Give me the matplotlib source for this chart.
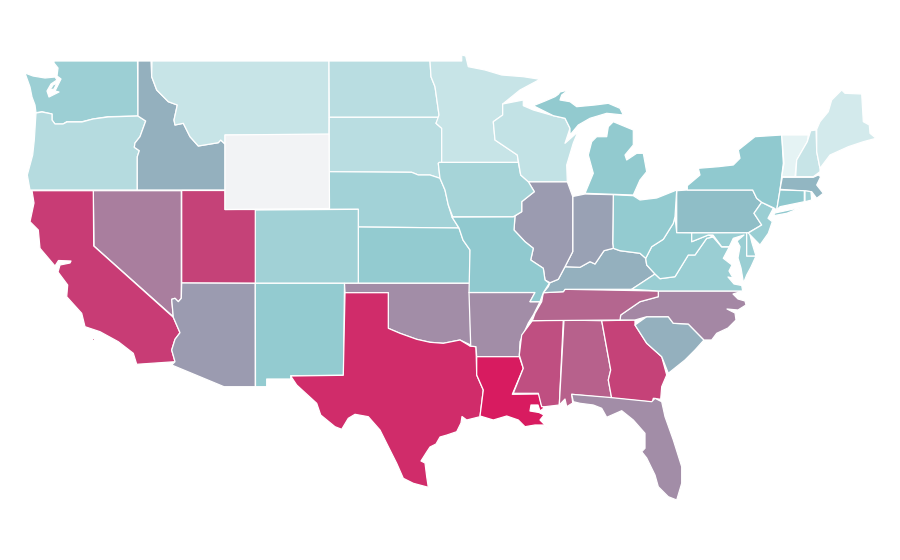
import numpy as np
import matplotlib
matplotlib.use('Agg')
import matplotlib.pyplot as plt
from matplotlib.collections import PolyCollection
from matplotlib.colors import LinearSegmentedColormap, Normalize

# Estimated value per state, WY has no data
state_values = {
    'WA': 33.5, 'OR': 23, 'ID': 48, 'MT': 15, 'WY': np.nan, 'ND': 21, 'SD': 21, 'NE': 30.5,
    'MN': 15, 'IA': 29, 'WI': 17, 'IL': 55, 'IN': 53, 'MI': 37.5, 'OH': 37, 'KY': 48,
    'TN': 73.5, 'NC': 62, 'SC': 48, 'GA': 86, 'AL': 75, 'MS': 81.5, 'LA': 100, 'AR': 60,
    'MO': 38.5, 'KS': 37, 'OK': 60, 'TX': 94, 'NM': 37, 'AZ': 55, 'NV': 65, 'UT': 86,
    'CO': 31, 'CA': 88, 'FL': 60, 'VA': 34, 'WV': 37, 'PA': 43, 'NY': 38.5, 'VT': 2,
    'NH': 15, 'ME': 10, 'MA': 46, 'CT': 39, 'RI': 32, 'NJ': 34, 'DE': 34, 'MD': 34,
}

outlines = {
    'WA': [[(54, 61), (137.5, 61), (138, 110), (138, 116), (108, 116.7), (93, 119), (82, 121.7), (66.7, 121.7),
            (63, 124), (55, 124), (52, 120), (52, 114), (42, 111.7), (36, 112.7), (35, 105), (32, 97), (30, 87),
            (25, 73), (33, 76), (45, 78), (55, 77), (57, 80), (51, 84), (47, 91), (49, 97), (59, 92), (55, 91),
            (61, 79), (57, 76), (58, 68), (54, 63)],
           [(50, 90), (53, 85), (57, 83), (54, 89)]],
    'OR': [[(36, 113), (42, 112), (52, 114), (52, 120), (55, 124), (63, 124), (67, 122), (82, 122), (93, 119),
            (108, 117), (138, 116), (145.7, 121), (140, 136.7), (135, 143), (134.3, 147.3), (139.3, 150.7),
            (137.3, 156.7), (137.3, 190), (30, 190), (27.3, 175), (32.7, 155), (34.3, 140)]],
    'ID': [[(138, 61), (151, 61), (151.7, 76.7), (156.7, 90), (168.3, 101.7), (177.3, 105), (174, 120), (175, 125),
            (183.3, 123.3), (190, 136.7), (198.3, 146), (218.3, 142.7), (220.7, 140), (225, 144), (225, 190),
            (137.3, 190), (137.3, 156.7), (139.3, 150.7), (134.3, 147.3), (135, 143), (140, 136.7), (145.7, 121),
            (138, 116), (138, 110)]],
    'MT': [[(152, 61), (329, 61), (329, 135), (225, 135), (225, 144), (220.7, 140), (218.3, 142.7), (198.3, 146),
            (190, 136.7), (183.3, 123.3), (175, 125), (174, 120), (177.3, 105), (168.3, 101.7), (156.7, 90),
            (151.7, 76.7)]],
    'ND': [[(329, 61), (430, 61), (431, 76.7), (435, 86.7), (439, 115), (439.3, 117.3), (329.3, 117.3)]],
    'SD': [[(329.3, 117.3), (439.3, 117.3), (436, 123.3), (441.7, 128.3), (441.7, 162.3), (438.3, 163.3),
            (440, 178.3), (430, 175), (418.3, 175), (411.7, 172.3), (329, 171.7)]],
    'NE': [[(329, 171.7), (411.7, 172.3), (418.3, 175), (430, 175), (440, 178.3), (445, 190), (448.3, 205),
            (452, 217), (459, 228), (358.3, 227), (358.3, 209.3), (329, 209.3)]],
    'KS': [[(358.3, 227), (459, 228), (463, 240), (470, 250), (470, 283.3), (358.3, 283.3)]],
    'CO': [[(255.3, 210), (358.3, 209.3), (358.3, 283.3), (255.3, 283.3)]],
    'UT': [[(181.7, 190.5), (225, 190.5), (225, 209.5), (255.3, 209.5), (255.3, 283.3), (181.7, 283)]],
    'NV': [[(93.3, 190.7), (181.3, 190.7), (181.3, 298.3), (178.3, 301.7), (175, 298.3), (171.7, 299.3),
            (173.3, 316.7), (94, 246)]],
    'CA': [[(32, 190.7), (93.3, 190.7), (93.7, 246), (173.3, 317.3), (180, 332.7), (175, 339.3), (171.7, 350),
            (175, 361.7), (136.7, 364.3), (133.3, 353.3), (118.3, 341.7), (100, 331.7), (85, 326.7), (81.7, 313.3),
            (66.7, 296.7), (67.7, 285), (58, 272), (60, 265), (70, 263), (71, 261), (58.5, 260.5), (55, 266),
            (40, 248.3), (38.3, 230), (30, 221.7), (34, 203)],
           [(92, 338), (94, 338), (94, 340), (92, 340)]],
    'AZ': [[(181.7, 283), (255.3, 283.3), (255.3, 386.7), (224, 386.7), (171.7, 365), (175, 361.7), (171.7, 350),
            (175, 339.3), (180, 332.7), (173.3, 317.3), (171.7, 299.3), (175, 298.3), (178.3, 301.7),
            (181.3, 298.3)]],
    'NM': [[(255.3, 283.3), (344.5, 283.3), (343.5, 375.3), (290.7, 375.7), (290.7, 379), (266.7, 379),
            (266.7, 386.7), (255.5, 386.7)]],
    'OK': [[(344.5, 283.3), (470, 283.3), (470.7, 345), (460, 340), (443.3, 343.3), (430, 342.3), (416.7, 339.3),
            (400, 333.3), (388.3, 328.3), (388.3, 292.7), (345, 292.7)]],
    'TX': [[(345, 292.7), (388.3, 292.7), (388.3, 328.3), (400, 333.3), (416.7, 339.3), (430, 342.3), (443.3, 343.3),
            (460, 340), (470, 346), (476, 346.7), (476.7, 375), (483.3, 390), (480, 416.7), (466.7, 420),
            (462, 416.5), (461, 423), (456.7, 431.7), (447, 435), (440, 437), (436, 444), (430, 447), (426.7, 452),
            (421, 461), (425, 463), (426.7, 476.7), (428.3, 487.3), (413.3, 483.3), (403.3, 478.3), (396.7, 463.3),
            (390, 450), (380, 430), (368.3, 416.7), (355, 414.3), (348.3, 418.3), (341.7, 429.3), (335, 426.7),
            (320.7, 415), (316.7, 403.3), (296.7, 385), (290.7, 376), (343.3, 375.3)]],
    'AR': [[(469, 292.5), (535, 292.5), (530, 301.7), (540, 301.7), (533.3, 315), (528.3, 323), (520, 341.7),
            (519.3, 356.7), (476.7, 356.7), (476, 346.7), (470, 346), (470.7, 345)]],
    'LA': [[(476.7, 356.7), (519.3, 356.7), (523.3, 368.3), (512.3, 394.3), (539.3, 394), (541, 404), (544, 408),
            (540, 411), (538, 405), (531, 405), (530, 411), (539, 412.5), (544, 415), (540, 420), (548.3, 428.3),
            (543, 425), (535, 425), (525, 426.7), (518.3, 420), (506.7, 416), (493.3, 420), (480, 416),
            (483.3, 390), (476.7, 375)]],
    'MS': [[(532.3, 320.7), (563.3, 320), (559.3, 405), (545, 406.7), (541.7, 406.7), (538.3, 393.3), (513.3, 393.3),
            (523.3, 368.3), (519.3, 355), (521.7, 335)]],
    'AL': [[(564, 320), (601.7, 320.7), (610.7, 370), (608.3, 380), (611.7, 398.3), (571.7, 394.3), (572.7, 403),
            (566.7, 406.7), (565, 399), (559.3, 405)]],
    'GA': [[(601.7, 320.7), (635, 320), (635, 325), (646.7, 343.3), (661.7, 356.7), (666.7, 375), (661.7, 386.7),
            (660.7, 399.3), (653.3, 398.3), (651.7, 405), (648.3, 401.7), (611.7, 398.3), (608.3, 380),
            (610.7, 370)]],
    'SC': [[(635, 325), (646.7, 316.7), (668.3, 316.7), (673.3, 323.3), (688.3, 324), (704, 340), (695, 350),
            (685, 360), (668.3, 373.3), (661.7, 356.7), (646.7, 343.3)]],
    'NC': [[(658.3, 291), (742.7, 291), (733, 294), (738, 299), (745, 301), (746, 305), (738, 310), (727, 309),
            (735, 313), (736, 320), (728, 328), (716.7, 333.3), (711.7, 340), (704, 340), (688.3, 324), (673.3, 323.3),
            (668.3, 316.7), (646.7, 316.7), (635, 320), (620, 320), (620.7, 315), (640, 301.7), (658.3, 296.7)]],
    'TN': [[(543.3, 292.7), (563.3, 291.7), (565, 289.3), (658.3, 291), (658.3, 296.7), (640, 301.7), (620.7, 315),
            (620, 320), (532.3, 320.7), (535, 313.3), (541.7, 301.7)]],
    'KY': [[(550, 282.7), (558.3, 279.3), (565, 266.7), (580, 267.3), (590, 261.7), (595, 264), (604, 250.7),
            (613.3, 248.3), (620, 250.7), (640, 253.3), (645.7, 258.3), (646.7, 265), (655, 274), (643.3, 281.7),
            (631.7, 289.3), (565, 289.3), (563.3, 291.7), (543.3, 292.7), (548.3, 286.7)]],
    'VA': [[(631.7, 289.3), (643.3, 281.7), (655, 274), (660, 278.7), (675, 276.7), (688.3, 255), (695, 255),
            (706.7, 238.3), (713, 237), (721.7, 247), (729.3, 247), (723.3, 258.3), (732, 265), (729, 271),
            (733, 278), (728, 277), (734, 284), (741.7, 285.5), (742.7, 291), (658.3, 291)]],
    'WV': [[(675, 216.7), (676.7, 232.5), (691.7, 232.7), (691.7, 241.7), (708.3, 235), (713, 237), (706.7, 238.3),
            (695, 255), (688.3, 255), (675, 276.7), (660, 278.7), (655, 274), (646.7, 265), (645.7, 258.3),
            (651.7, 246.7), (663.3, 239.3), (673.3, 223.3)]],
    'MD': [[(691.7, 232.7), (746.7, 232.5), (746.7, 256), (756, 256), (751, 267), (746.7, 275), (743.5, 283),
            (741, 268), (738, 258), (740, 246.7), (737, 241), (744, 235), (733.3, 238.3), (729.3, 246.7),
            (721.7, 246.7), (713, 235), (708.3, 235), (691.7, 241.7)]],
    'DE': [[(746.7, 232.5), (749, 231), (752, 243), (756, 256), (746.7, 256)]],
    'PA': [[(676.7, 190.7), (687.3, 190), (752.7, 190), (756.7, 198.3), (761.7, 202.3), (754, 213.3), (761.7, 225),
            (748.3, 232.7), (676.7, 232.7)]],
    'NJ': [[(761.7, 202.3), (773.3, 208.3), (768, 218.3), (772.3, 221.7), (768.3, 233.3), (760, 245), (748.3, 233),
            (761.7, 225), (754, 213.3)]],
    'NY': [[(687.3, 185.7), (700, 175), (698.3, 168.3), (718.3, 166.7), (733.3, 165), (740, 158.3), (738.3, 150),
            (755, 136.7), (781.7, 135), (783.3, 163.3), (780, 190), (776.7, 210), (774, 208), (761.7, 202.3),
            (756.7, 198.3), (752.7, 190), (687.3, 190)],
           [(775, 213), (801.7, 207.3), (786.7, 213.3), (773.3, 215.7)]],
    'VT': [[(781.7, 135), (808.3, 135), (807.3, 141.7), (796.7, 160), (795, 176.7), (781.7, 176.7), (784, 163.3)]],
    'NH': [[(810.7, 130.7), (816, 130), (816.7, 151.7), (820, 168.3), (820, 171.7), (813.3, 176.7), (795.7, 176.7),
            (796.7, 160), (807.3, 141.7)]],
    'ME': [[(816.7, 129.3), (820, 121.7), (828.3, 111.7), (831.7, 100), (841.7, 90), (845, 93.3), (861.7, 94),
            (863.3, 121.7), (869.3, 125), (870, 133.3), (876, 138.3), (863.3, 141.7), (848.3, 146.7), (830, 155),
            (820, 168.3), (816.7, 151.7)]],
    'MA': [[(782.3, 177.3), (813.3, 177.3), (818.3, 175), (820.7, 176.7), (816.7, 185), (823.3, 193.3), (816.7, 198.3),
            (811.7, 191.7), (780, 189.3)]],
    'CT': [[(780, 190), (804.3, 190.7), (804.3, 201.7), (780, 206.7), (776.7, 210)]],
    'RI': [[(805, 190.7), (811, 191.7), (811.7, 200), (805, 201.7)]],
    'OH': [[(613.3, 194.7), (633.3, 195.7), (640, 200), (656.7, 198), (676.7, 190), (675, 216.7), (673.3, 223.3),
            (663.3, 239.3), (651.7, 246.7), (645.7, 258.3), (640, 253.3), (620, 250.7), (613.3, 248.3),
            (612.7, 243.3)]],
    'IN': [[(572.7, 196.5), (585, 194), (613.3, 194.7), (612.7, 243.3), (613.3, 248.3), (604, 250.7),
            (595, 264), (590, 261.7), (580, 267.3), (565, 266.7), (572.7, 251.7)]],
    'IL': [[(528.3, 181.7), (567.3, 181.7), (572.7, 196.5), (572.7, 251.7), (565, 266.7), (558.3, 279.3), (550, 282.7),
            (545, 280), (543.3, 268.3), (530.7, 260), (533.3, 248.3), (525, 241.7), (514, 230), (515, 216),
            (521.7, 211.7), (521.7, 201.7), (534.3, 191.7)]],
    'MO': [[(452, 217), (513.3, 216.7), (515, 216), (514, 230), (525, 241.7), (533.3, 248.3),
            (530.7, 260), (543.3, 268.3), (545, 280), (549.3, 283.3), (543.3, 292.7), (540, 301.7), (530, 301.7),
            (535, 292.5), (469, 292.5), (470, 250), (463, 240), (459, 228)]],
    'IA': [[(439.3, 162.3), (518.3, 162.3), (520.7, 175), (528.3, 181.7), (534.3, 191.7), (521.7, 201.7),
            (521.7, 211.7), (513.3, 216.7), (452.7, 216.7), (448.3, 205), (445, 190), (440, 178.3), (438.3, 163.3)]],
    'MN': [[(430, 61), (461.7, 61), (461.7, 55), (465.7, 56), (468.3, 66.7), (485, 70), (501.7, 75), (523.3, 76.7),
            (540, 79.3), (520, 90), (502.7, 104), (502.7, 115), (493.3, 121.7), (495, 140), (517.3, 155),
            (518.3, 162.3), (441.7, 162.3), (441.7, 128.3), (436, 123.3), (439, 115), (435, 86.7), (431, 76.7)]],
    'WI': [[(502.7, 104), (523.3, 100), (523.3, 105.7), (533.3, 110), (553.3, 115.7), (565, 118.3), (570, 128.3),
            (565, 143.3), (578, 131.7), (573.3, 143), (566.7, 165), (567.3, 181.7), (528.3, 181.7),
            (520.7, 175), (517.3, 155), (495, 140), (493.3, 121.7), (502.7, 115)]],
    'MI': [[(585, 193.3), (613.3, 194.3), (633.3, 195), (640, 180), (646.7, 171.7), (643.3, 153.3), (636.7, 153.3),
            (626.7, 160), (625, 155), (633.3, 145), (633.3, 130), (613.3, 121.7), (608.3, 126.7), (606.7, 136.7),
            (596.7, 136.7), (591.7, 141.7), (588.3, 155), (593.3, 173.3)],
           [(533.3, 105.7), (545, 101), (555, 96.7), (558.3, 94.3), (560, 92), (568.3, 90), (561.7, 95), (560, 100),
            (570, 101.7), (576.7, 106.7), (595, 105), (608.3, 103.3), (620, 108.3), (623.3, 115), (606.7, 113.3),
            (590, 118.3), (578.3, 125), (570, 135), (570, 128.3), (565, 118.3), (553.3, 115.7)]],
    'FL': [[(571.7, 394.3), (608.3, 397.3), (651.7, 401.7), (655, 398.3), (661.7, 401.7), (665, 416.7), (673.3, 440),
            (681.7, 466.7), (681.7, 483.3), (676.7, 500), (668.3, 496.7), (658.3, 486.7), (655, 475), (646.7, 458),
            (641.7, 451.7), (645, 448.3), (645, 433.3), (633.3, 420), (621.7, 410.7), (606.7, 417.3), (601.7, 408.3),
            (593.3, 405), (580, 403.3), (573.3, 401.7)]],
    'WY': [[(225, 135), (329, 134), (329.5, 208.5), (225, 209.5)]],
}

# Colour ramp: light teal, teal, grey violet, crimson
ramp = LinearSegmentedColormap.from_list('ramp', [(0, '#eaf5f6'), (0.4, '#8cc7cd'), (0.55, '#9b9bb0'), (1, '#d81b60')])
ramp.set_bad('#f2f3f5')

polys = []
vals = []
for state, parts in outlines.items():
    for part in parts:
        polys.append(part)
        vals.append(state_values[state])

fig = plt.figure(figsize=(9, 5.6), dpi=100)
ax = fig.add_axes([0, 0, 1, 1])
coll = PolyCollection(polys, array=np.ma.masked_invalid(vals), cmap=ramp, norm=Normalize(0, 100),
                      edgecolors='white', linewidths=0.9)
ax.add_collection(coll)
ax.set_xlim(0, 900)
ax.set_ylim(560, 0)
ax.axis('off')

fig.savefig('out.png', dpi=100, facecolor='white')
